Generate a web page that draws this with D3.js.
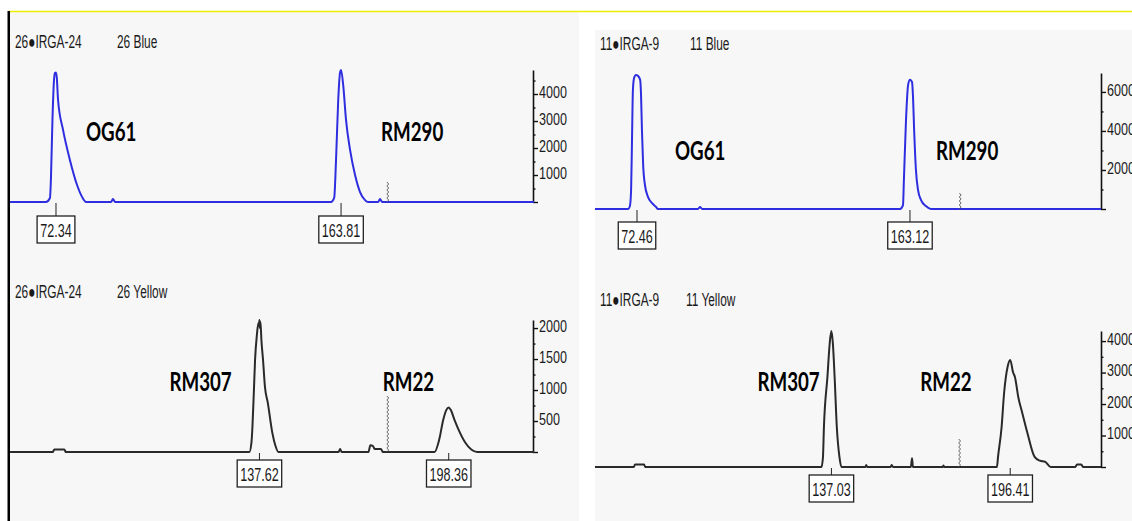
<!DOCTYPE html>
<html>
<head>
<meta charset="utf-8">
<script src="https://cdn.jsdelivr.net/npm/d3@7"></script>
<style>
  html, body { margin: 0; padding: 0; background: #ffffff; }
  svg { display: block; }
</style>
</head>
<body>
<svg id="chart" width="1132" height="521"></svg>
<script>
// ---------------- DATA ----------------
// traces: [fragment size (bp), signal (RFU)]
const traceBlue26 = [
  [57.6,0],[69.1,0],[70.4,150],[70.7,800],[71.2,3040],[71.7,4520],[72.0,4780],[72.34,4800],[72.6,4600],
  [73.0,3780],[74.6,2670],[76.8,1560],[79.1,630],[80.7,190],[82.0,0],[90.0,0],[90.6,110],[91.3,0],
  [160.6,0],[161.6,150],[162.2,1560],[162.9,3780],[163.5,4810],[163.81,4890],[164.5,4330],[165.4,3040],
  [166.7,1930],[168.3,1000],[169.9,370],[171.5,70],[172.5,0],[175.7,0],[176.3,110],[177.0,0],[225.7,0]
];
const traceBlue11 = [
  [58.5,0],[69.5,0],[70.1,150],[70.5,970],[70.8,3540],[71.1,6100],[71.5,6720],[72.1,6870],[72.46,6850],
  [72.8,6820],[73.5,6620],[73.8,5850],[74.1,4050],[74.5,2260],[75.1,1230],[76.1,620],[77.4,310],[78.8,100],
  [79.4,0],[92.7,0],[93.4,100],[94.1,0],[159.8,0],[160.8,200],[161.1,1490],[161.8,4560],[162.5,6360],
  [163.12,6620],[163.8,6510],[164.1,5850],[164.5,4050],[165.1,2000],[165.8,970],[166.8,460],[168.4,150],
  [170.1,0],[226.6,0]
];
const traceYellow26 = [
  [57.6,0],[71.3,0],[71.8,40],[75.0,40],[75.5,0],[134.4,0],[135.05,150],[135.37,400],[135.85,1000],
  [136.21,1480],[136.82,1900],[137.3,2080],[137.5,2040],[137.62,2130],[137.75,2000],[137.94,2100],
  [138.26,1800],[138.78,1480],[139.39,1050],[140.32,790],[141.79,300],[142.75,100],[143.72,0],
  [163.0,0],[163.5,50],[164.0,0],[172.6,0],[173.2,110],[174.0,100],[174.6,50],[176.6,50],[177.2,0],
  [193.8,0],[195.3,200],[196.6,520],[197.6,680],[198.36,720],[199.0,680],[200.2,520],[201.8,330],
  [203.7,150],[205.6,40],[207.5,0],[225.7,0]
];
const traceYellow11 = [
  [58.5,0],[71.4,0],[71.8,80],[74.8,80],[75.2,0],[133.71,0],[134.21,300],[134.54,1270],[135.7,2860],
  [136.53,4000],[137.03,4320],[137.53,3900],[138.09,2860],[138.82,1270],[139.69,320],[140.35,0],
  [148.3,0],[148.6,60],[148.9,0],[156.7,0],[157.0,60],[157.5,0],[163.4,0],[163.8,280],[164.1,0],
  [174.0,0],[174.2,50],[174.5,0],[192.0,0],[192.36,320],[193.55,1270],[194.38,2350],[195.58,3200],
  [196.41,3400],[197.37,3000],[197.97,2860],[199.13,2200],[200.33,1750],[202.12,1080],[204.51,320],
  [206.27,200],[208.07,160],[209.86,0],[218.0,0],[218.6,80],[220.0,80],[220.6,0],[226.6,0]
];

// off-scale / size-standard markers [size, height]
const markersBlue26 = [[178.8, 800]];
const markersBlue11 = [[179.8, 850]];
const markersYellow26 = [[178.8, 930]];
const markersYellow11 = [[179.6, 920]];

// called peak sizes
const callsBlue26 = [72.34, 163.81];
const callsBlue11 = [72.46, 163.12];
const callsYellow26 = [137.62, 198.36];
const callsYellow11 = [137.03, 196.41];

// marker (locus) labels
const lociBlue = ["OG61", "RM290"];
const lociYellow = ["RM307", "RM22"];

// axis ticks
const ticksBlue26 = [1000, 2000, 3000, 4000];
const ticksBlue11 = [2000, 4000, 6000];
const ticksYellow26 = [500, 1000, 1500, 2000];
const ticksYellow11 = [1000, 2000, 3000, 4000];
const minorBlue26 = [500, 1500, 2500, 3500, 4500];
const minorBlue11 = [1000, 3000, 5000];
const minorYellow26 = [250, 750, 1250, 1750];
const minorYellow11 = [500, 1500, 2500, 3500];

const titlesSample = ["26\u25CFIRGA-24", "11\u25CFIRGA-9"];
const titlesDye = ["26 Blue", "11 Blue", "26 Yellow", "11 Yellow"];

// ---------------- LAYOUT ----------------
const svg = d3.select("#chart");

// backgrounds and frame
svg.append("rect").attr("x", 10).attr("y", 12).attr("width", 569).attr("height", 509).attr("fill", "#f7f7f7");
svg.append("rect").attr("x", 595).attr("y", 30).attr("width", 537).attr("height", 491).attr("fill", "#f7f7f7");
svg.append("line").attr("x1", 8).attr("x2", 1132).attr("y1", 11.5).attr("y2", 11.5).attr("stroke", "#eeee00").attr("stroke-width", 1.3);
svg.append("rect").attr("x", 7.5).attr("y", 11).attr("width", 2.5).attr("height", 510).attr("fill", "#000");

const panels = [
  { trace: traceBlue26, markers: markersBlue26, calls: callsBlue26, loci: lociBlue, ticks: ticksBlue26, minor: minorBlue26,
    sample: titlesSample[0], dye: titlesDye[0], color: "#2e2ee0",
    x0: 10, x1: 533, dom: [57.58, 225.4], base: 202, top: 70, yMax: 4890,
    titleX: 15, titleY: 48, dyeX: 117, lociY: 141, lociDX: [30, 40], boxY: 216 },
  { trace: traceBlue11, markers: markersBlue11, calls: callsBlue11, loci: lociBlue, ticks: ticksBlue11, minor: minorBlue11,
    sample: titlesSample[1], dye: titlesDye[1], color: "#2e2ee0",
    x0: 595, x1: 1101, dom: [58.51, 226.56], base: 209, top: 73, yMax: 6970,
    titleX: 600, titleY: 50, dyeX: 690, lociY: 160, lociDX: [38, 26], boxY: 222 },
  { trace: traceYellow26, markers: markersYellow26, calls: callsYellow26, loci: lociYellow, ticks: ticksYellow26, minor: minorYellow26,
    sample: titlesSample[0], dye: titlesDye[2], color: "#2a2a2a",
    x0: 10, x1: 533, dom: [57.58, 225.4], base: 452, top: 320, yMax: 2130,
    titleX: 15, titleY: 298, dyeX: 117, lociY: 391, lociDX: [-90, -66], boxY: 460 },
  { trace: traceYellow11, markers: markersYellow11, calls: callsYellow11, loci: lociYellow, ticks: ticksYellow11, minor: minorYellow11,
    sample: titlesSample[1], dye: titlesDye[3], color: "#2a2a2a",
    x0: 595, x1: 1101, dom: [58.51, 226.56], base: 467, top: 331, yMax: 4320,
    titleX: 600, titleY: 306, dyeX: 686, lociY: 391, lociDX: [-74, -90], boxY: 475 }
];

function squishText(sel, x, y, size, sx) {
  sel.attr("transform", `translate(${x},${y}) scale(${sx},1)`)
     .attr("font-size", size);
  return sel;
}

panels.forEach(p => {
  const g = svg.append("g");
  const x = d3.scaleLinear().domain(p.dom).range([p.x0, p.x1]);
  const y = d3.scaleLinear().domain([0, p.yMax]).range([p.base, p.top]);

  // titles
  squishText(g.append("text").text(p.sample), p.titleX, p.titleY, 18, 0.66)
    .attr("font-family", "Liberation Sans, Arial, sans-serif").attr("fill", "#1a1a1a");
  squishText(g.append("text").text(p.dye), p.dyeX, p.titleY, 18, 0.66)
    .attr("font-family", "Liberation Sans, Arial, sans-serif").attr("fill", "#1a1a1a");

  // right axis
  const ax = g.append("g").attr("transform", `translate(${p.x1},0)`);
  ax.call(d3.axisRight(y).tickValues(p.ticks).tickSize(5).tickSizeOuter(0).tickPadding(2).tickFormat(d3.format("d")));
  ax.select(".domain").attr("stroke", "#111").attr("stroke-width", 1.6);
  ax.selectAll(".tick line").attr("stroke", "#111").attr("stroke-width", 1.4);
  ax.selectAll(".tick text")
    .attr("font-family", "Liberation Sans, Arial, sans-serif").attr("font-size", 17).attr("fill", "#1a1a1a")
    .attr("x", 0).attr("dy", "0.2em")
    .attr("transform", `translate(6,0) scale(0.74,1)`);
  const axm = g.append("g").attr("transform", `translate(${p.x1},0)`);
  axm.call(d3.axisRight(y).tickValues(p.minor.concat([0])).tickSize(2.5).tickSizeOuter(0).tickFormat(""));
  axm.select(".domain").remove();
  axm.selectAll(".tick line").attr("stroke", "#111").attr("stroke-width", 1.4);
  axm.selectAll(".tick").filter(d => d === 0).select("line").attr("x2", 5);

  // trace
  const line = d3.line().x(d => x(d[0])).y(d => y(d[1])).curve(d3.curveMonotoneX);
  g.append("path").datum(p.trace).attr("d", line)
    .attr("fill", "none").attr("stroke", p.color).attr("stroke-width", 2).attr("stroke-linejoin", "round");

  // markers (wavy vertical lines)
  p.markers.forEach(m => {
    const xm = x(m[0]);
    const yb = y(0), yt = y(m[1]);
    const pts = [];
    let k = 0;
    for (let yy = yb; yy >= yt; yy -= 2, k++) pts.push([xm + (k % 2 ? 0.9 : -0.9), yy]);
    g.append("path").attr("d", d3.line()(pts)).attr("fill", "none").attr("stroke", "#555").attr("stroke-width", 0.9);
  });

  // called size boxes
  p.calls.forEach(c => {
    const xc = x(c);
    const bg = g.append("g");
    bg.append("line").attr("x1", xc).attr("x2", xc).attr("y1", p.base + 1).attr("y2", p.boxY)
      .attr("stroke", "#222").attr("stroke-width", 1);
    const r = bg.append("rect");
    const t = bg.append("text").text(c.toFixed(2))
      .attr("font-family", "Liberation Sans, Arial, sans-serif").attr("fill", "#1a1a1a")
      .attr("text-anchor", "middle");
    squishText(t, xc, p.boxY + 21, 18, 0.7);
    const bb = t.node().getBBox();
    const w = bb.width * 0.7 + 6;
    r.attr("x", xc - w / 2).attr("y", p.boxY).attr("width", w).attr("height", 27)
      .attr("fill", "#fff").attr("stroke", "#222").attr("stroke-width", 1.3);
  });

  // locus labels
  p.loci.forEach((name, i) => {
    const xc = x(p.calls[i]) + p.lociDX[i];
    squishText(g.append("text").text(name), xc, p.lociY, 26, 0.72)
      .attr("font-family", "Lato, 'Open Sans', sans-serif").attr("font-weight", 700).attr("fill", "#000");
  });
});
</script>
</body>
</html>
